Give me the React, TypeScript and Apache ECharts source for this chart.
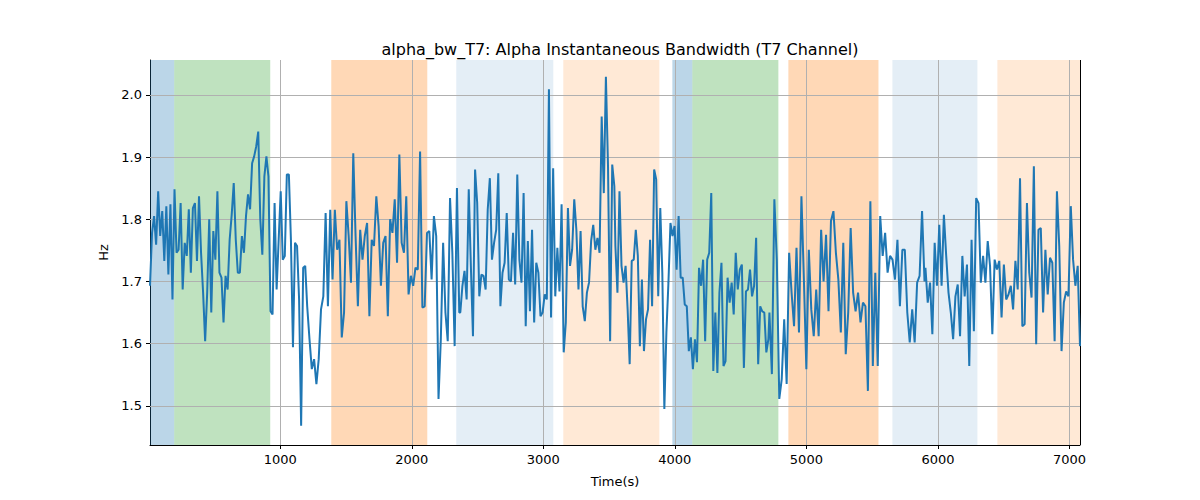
import { useEffect, useRef } from 'react';
import * as echarts from 'echarts';

// each segment's values are spread evenly across its time range
const seg1Range = [10, 1190];
const seg1 = [1.693, 1.778, 1.805, 1.759, 1.845, 1.773, 1.813, 1.733, 1.821, 1.711, 1.824, 1.671, 1.848, 1.746, 1.751, 1.826, 1.687, 1.762, 1.741, 1.816, 1.714, 1.818, 1.826, 1.733, 1.837, 1.746, 1.682, 1.604, 1.682, 1.8, 1.65, 1.781, 1.735, 1.845, 1.714, 1.706, 1.634, 1.709, 1.687, 1.767, 1.807, 1.858, 1.767, 1.714, 1.714, 1.773, 1.746, 1.805, 1.84, 1.816, 1.89, 1.901, 1.917, 1.941, 1.8, 1.743, 1.869, 1.901, 1.869, 1.652, 1.647, 1.826, 1.687, 1.767, 1.845, 1.735, 1.741, 1.872, 1.872, 1.767, 1.594, 1.762, 1.757, 1.671, 1.468, 1.722, 1.725];
const seg2Range = [1205, 2361];
const seg2 = [1.66, 1.607, 1.559, 1.575, 1.535, 1.575, 1.655, 1.676, 1.81, 1.66, 1.815, 1.703, 1.815, 1.751, 1.767, 1.61, 1.65, 1.829, 1.773, 1.698, 1.906, 1.773, 1.66, 1.783, 1.735, 1.773, 1.794, 1.644, 1.767, 1.757, 1.837, 1.789, 1.693, 1.762, 1.773, 1.644, 1.8, 1.778, 1.832, 1.73, 1.904, 1.762, 1.746, 1.837, 1.679, 1.709, 1.693, 1.722, 1.719, 1.909, 1.658, 1.66, 1.778, 1.781, 1.703, 1.805, 1.773, 1.511, 1.607, 1.762, 1.65, 1.604, 1.834, 1.746, 1.596, 1.85, 1.65];
const seg3Range = [2369, 3540];
const seg3 = [1.65, 1.693, 1.717, 1.671, 1.848, 1.725, 1.612, 1.88, 1.826, 1.676, 1.711, 1.709, 1.687, 1.816, 1.866, 1.735, 1.762, 1.783, 1.874, 1.66, 1.714, 1.73, 1.81, 1.703, 1.7, 1.778, 1.695, 1.872, 1.735, 1.698, 1.842, 1.628, 1.765, 1.652, 1.783, 1.634, 1.73, 1.714, 1.644, 1.65, 1.679, 1.671, 2.009, 1.642, 1.882, 1.676, 1.754, 1.684, 1.824, 1.586, 1.634, 1.818, 1.725, 1.751, 1.832, 1.783, 1.687, 1.781, 1.66, 1.636, 1.682, 1.698, 1.765, 1.791, 1.751, 1.77, 1.746, 1.965, 1.842, 2.029, 1.885, 1.604, 1.888, 1.853];
const seg4Range = [3548, 4711];
const seg4 = [1.757, 1.682, 1.845, 1.725, 1.698, 1.725, 1.655, 1.567, 1.733, 1.735, 1.783, 1.741, 1.596, 1.703, 1.588, 1.639, 1.655, 1.767, 1.66, 1.88, 1.864, 1.676, 1.818, 1.714, 1.495, 1.618, 1.698, 1.794, 1.773, 1.789, 1.719, 1.805, 1.706, 1.706, 1.663, 1.66, 1.588, 1.61, 1.559, 1.607, 1.57, 1.722, 1.693, 1.735, 1.604, 1.735, 1.746, 1.842, 1.556, 1.65, 1.553, 1.682, 1.73, 1.564, 1.572, 1.706, 1.666, 1.698, 1.647, 1.746, 1.687, 1.719, 1.727, 1.561, 1.684, 1.687, 1.719, 1.676, 1.693, 1.77, 1.567, 1.66, 1.652, 1.65, 1.586, 1.607];
const seg5Range = [4719, 5898];
const seg5 = [1.65, 1.551, 1.832, 1.735, 1.511, 1.543, 1.639, 1.535, 1.746, 1.682, 1.628, 1.754, 1.618, 1.837, 1.703, 1.559, 1.751, 1.655, 1.612, 1.687, 1.612, 1.783, 1.7, 1.775, 1.652, 1.797, 1.813, 1.746, 1.703, 1.618, 1.762, 1.583, 1.65, 1.786, 1.682, 1.652, 1.682, 1.634, 1.666, 1.66, 1.524, 1.829, 1.564, 1.714, 1.564, 1.805, 1.741, 1.778, 1.714, 1.741, 1.735, 1.703, 1.767, 1.66, 1.751, 1.751, 1.65, 1.602, 1.655, 1.602, 1.698, 1.709, 1.813, 1.7];
const seg6Range = [5905, 7080];
const seg6 = [1.722, 1.666, 1.698, 1.615, 1.762, 1.693, 1.791, 1.693, 1.807, 1.741, 1.682, 1.65, 1.607, 1.676, 1.695, 1.612, 1.741, 1.676, 1.727, 1.564, 1.767, 1.62, 1.834, 1.826, 1.698, 1.741, 1.698, 1.765, 1.725, 1.615, 1.735, 1.719, 1.733, 1.642, 1.727, 1.671, 1.679, 1.693, 1.655, 1.733, 1.687, 1.866, 1.628, 1.631, 1.826, 1.714, 1.674, 1.885, 1.599, 1.783, 1.786, 1.65, 1.751, 1.679, 1.738, 1.73, 1.604, 1.845, 1.757, 1.588, 1.666, 1.684, 1.676, 1.821, 1.735, 1.693, 1.725, 1.596];

const segments: [number[], number[]][] = [
  [seg1Range, seg1], [seg2Range, seg2], [seg3Range, seg3],
  [seg4Range, seg4], [seg5Range, seg5], [seg6Range, seg6],
];

// shaded spans: [start, end, colour]
const spans: [number, number, string][] = [
  [10, 194, 'rgba(31,119,180,0.3)'],
  [194, 924, 'rgba(44,160,44,0.3)'],
  [1388, 2118, 'rgba(255,127,14,0.3)'],
  [2338, 3076, 'rgba(31,119,180,0.12)'],
  [3152, 3882, 'rgba(255,127,14,0.17)'],
  [3981, 4133, 'rgba(31,119,180,0.3)'],
  [4133, 4787, 'rgba(44,160,44,0.3)'],
  [4863, 5548, 'rgba(255,127,14,0.3)'],
  [5654, 6300, 'rgba(31,119,180,0.12)'],
  [6452, 7080, 'rgba(255,127,14,0.17)'],
];

const xTicks = [1000, 2000, 3000, 4000, 5000, 6000, 7000];
const yTicks = [1.5, 1.6, 1.7, 1.8, 1.9, 2.0];

const X_MIN = 10;
const X_MAX = 7080;
const Y_MIN = 1.437;
const Y_MAX = 2.056;

export default function App() {
  const ref = useRef<HTMLDivElement | null>(null);

  useEffect(() => {
    if (!ref.current) return;
    const chart = echarts.init(ref.current, null, { renderer: 'svg' });

    const points: [number, number][] = [];
    segments.forEach(([[t0, t1], vals]) => {
      vals.forEach((v, i) => {
        points.push([t0 + ((t1 - t0) * i) / (vals.length - 1), v]);
      });
    });

    const gridStyle = { color: '#b0b0b0', width: 1, type: 'solid' as const };

    chart.setOption({
      animation: false,
      title: {
        text: 'alpha_bw_T7: Alpha Instantaneous Bandwidth (T7 Channel)',
        left: 615,
        top: 36,
        textAlign: 'center',
        textStyle: { fontFamily: 'DejaVu Sans', fontSize: 16, fontWeight: 'normal', color: '#000' },
      },
      grid: { left: 150, right: 120, top: 60, bottom: 55 },
      xAxis: {
        type: 'value',
        min: X_MIN,
        max: X_MAX,
        name: 'Time(s)',
        nameLocation: 'middle',
        nameGap: 30,
        nameTextStyle: { fontFamily: 'DejaVu Sans', fontSize: 13, color: '#000' },
        axisLine: { onZero: false, lineStyle: { color: '#000' } },
        axisTick: { customValues: xTicks, length: 4, lineStyle: { color: '#000' } },
        axisLabel: {
          customValues: xTicks,
          fontFamily: 'DejaVu Sans',
          fontSize: 13,
          color: '#000',
          formatter: (v: number) => String(v),
        },
        splitLine: { show: false },
      },
      yAxis: {
        type: 'value',
        min: Y_MIN,
        max: Y_MAX,
        name: 'Hz',
        nameLocation: 'middle',
        nameGap: 38,
        nameTextStyle: { fontFamily: 'DejaVu Sans', fontSize: 13, color: '#000' },
        axisLine: { show: true, lineStyle: { color: '#000' } },
        axisTick: { show: true, customValues: yTicks, length: 4, lineStyle: { color: '#000' } },
        axisLabel: {
          customValues: yTicks,
          fontFamily: 'DejaVu Sans',
          fontSize: 13,
          color: '#000',
          formatter: (v: number) => v.toFixed(1),
        },
        splitLine: { show: false },
      },
      series: [
        {
          type: 'line',
          data: [],
          silent: true,
          markArea: {
            silent: true,
            data: spans.map(([a, b, c]) => [
              { xAxis: a, itemStyle: { color: c } },
              { xAxis: b },
            ]),
          },
          markLine: {
            silent: true,
            symbol: 'none',
            label: { show: false },
            lineStyle: gridStyle,
            data: [
              ...xTicks.map((t) => ({ xAxis: t })),
              ...yTicks.map((t) => ({ yAxis: t })),
            ],
          },
        },
        {
          type: 'line',
          data: points,
          showSymbol: false,
          lineStyle: { color: '#1f77b4', width: 2 },
          itemStyle: { color: '#1f77b4' },
          z: 5,
        },
        {
          type: 'line',
          data: [],
          markLine: {
            silent: true,
            symbol: 'none',
            label: { show: false },
            lineStyle: { color: '#000', width: 1, type: 'solid' },
            data: [{ xAxis: X_MAX }, { yAxis: Y_MAX }],
          },
          z: 6,
        },
      ],
    });

    return () => chart.dispose();
  }, []);

  return <div ref={ref} style={{ width: 1200, height: 500, margin: -8 }} />;
}
